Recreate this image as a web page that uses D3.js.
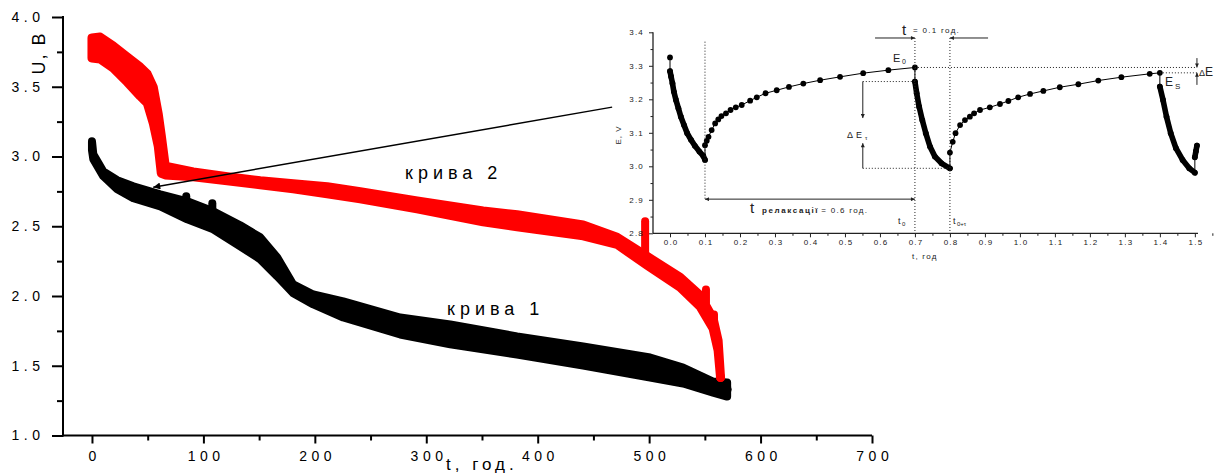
<!DOCTYPE html>
<html>
<head>
<meta charset="utf-8">
<script src="https://cdn.jsdelivr.net/npm/d3@7"></script>
<style>
  body { margin: 0; background: #fff; }
  svg { display: block; font-family: "Liberation Sans", Arial, sans-serif; }
</style>
</head>
<body>
<svg id="chart" width="1215" height="474"></svg>
<script>
// ---- Main chart: cell voltage U (V) vs time t (h), upper / lower envelope of the pulsed readings ----
const curve1T  = [0, 1.2, 10.1, 22.7, 37.1, 61.3, 85.5, 108.8, 133.0, 151.0, 166.2, 180.6, 198.6, 225.5, 276.6, 321.5, 381.5, 440.8, 500.9, 530.5, 557.4, 570.0];
const curve1Hi = [3.110, 3.017, 2.894, 2.830, 2.787, 2.729, 2.679, 2.607, 2.507, 2.421, 2.277, 2.083, 2.011, 1.961, 1.846, 1.796, 1.710, 1.638, 1.559, 1.487, 1.387, 1.380];
const curve1Lo = [3.045, 2.981, 2.859, 2.765, 2.701, 2.643, 2.550, 2.478, 2.356, 2.263, 2.141, 2.019, 1.940, 1.846, 1.724, 1.653, 1.581, 1.502, 1.416, 1.373, 1.308, 1.279];
const spike1T    = [84.6, 108.0];
const spike1Top  = [2.715, 2.665];
const spike1Base = [2.66, 2.60];

const curve2T  = [0, 7.4, 19.1, 31.7, 43.3, 49.6, 55.0, 59.5, 62.2, 65.8, 90.9, 121.4, 151.0, 180.6, 211.1, 240.7, 291.8, 351.0, 381.5, 440.8, 471.2, 498.2, 527.8, 545.7, 557.4, 561.9, 564.1];
const curve2Hi = [3.849, 3.856, 3.792, 3.713, 3.641, 3.591, 3.497, 3.304, 3.150, 2.930, 2.890, 2.855, 2.826, 2.804, 2.783, 2.747, 2.682, 2.610, 2.582, 2.510, 2.421, 2.284, 2.134, 2.004, 1.839, 1.681, 1.416];
const curve2Lo = [3.706, 3.698, 3.634, 3.533, 3.433, 3.383, 3.239, 3.074, 2.880, 2.868, 2.855, 2.826, 2.797, 2.768, 2.733, 2.697, 2.625, 2.532, 2.496, 2.431, 2.370, 2.220, 2.062, 1.925, 1.767, 1.609, 1.416];
const spike2T    = [496.4, 551.0, 558.2];
const spike2Top  = [2.536, 2.047, 1.868];
const spike2Base = [2.27, 1.95, 1.83];

const mainXTicks = [0, 100, 200, 300, 400, 500, 600, 700];
const mainXMinor = [50, 150, 250, 350, 450, 550, 650];
const mainYTicks = [1.0, 1.5, 2.0, 2.5, 3.0, 3.5, 4.0];
const mainYMinor = [1.25, 1.75, 2.25, 2.75, 3.25, 3.75];

// ---- Inset: E (V) vs t (h) over pulse / relaxation cycles ----
const openT = [0.000];
const openE = [3.325];
const dis1T = [0.000, 0.003, 0.007, 0.011, 0.017, 0.024, 0.031, 0.040, 0.049, 0.060, 0.071, 0.084, 0.095, 0.100];
const dis1E = [3.284, 3.268, 3.248, 3.223, 3.198, 3.173, 3.148, 3.123, 3.099, 3.079, 3.061, 3.044, 3.031, 3.019];
const rel1T = [0.100, 0.105, 0.110, 0.119, 0.129, 0.138, 0.147, 0.160, 0.173, 0.188, 0.205, 0.229, 0.248, 0.273, 0.305, 0.340, 0.381, 0.429, 0.486, 0.552, 0.624, 0.700];
const rel1E = [3.063, 3.076, 3.088, 3.108, 3.128, 3.140, 3.150, 3.158, 3.168, 3.176, 3.183, 3.196, 3.206, 3.218, 3.227, 3.237, 3.247, 3.257, 3.267, 3.278, 3.287, 3.295];
const dis2T = [0.700, 0.705, 0.712, 0.721, 0.731, 0.743, 0.757, 0.776, 0.800];
const dis2E = [3.253, 3.218, 3.178, 3.138, 3.099, 3.059, 3.029, 3.009, 2.994];
const rel2T = [0.800, 0.808, 0.816, 0.829, 0.843, 0.857, 0.869, 0.886, 0.914, 0.943, 0.967, 0.995, 1.029, 1.067, 1.114, 1.167, 1.224, 1.290, 1.371, 1.400];
const rel2E = [3.041, 3.073, 3.099, 3.123, 3.138, 3.148, 3.158, 3.168, 3.176, 3.186, 3.195, 3.206, 3.216, 3.225, 3.236, 3.245, 3.256, 3.266, 3.276, 3.279];
const dis3T = [1.400, 1.409, 1.419, 1.431, 1.446, 1.465, 1.484, 1.500];
const dis3E = [3.238, 3.198, 3.148, 3.099, 3.054, 3.019, 2.994, 2.981];
const rel3T = [1.500, 1.503, 1.506];
const rel3E = [3.027, 3.045, 3.062];

const insetXTicks = d3.range(0, 16).map(i => i / 10);
const insetXMinor = d3.range(0, 16).map(i => i / 10 + 0.05);
const insetYTicks = [2.8, 2.9, 3.0, 3.1, 3.2, 3.3, 3.4];
const insetYMinor = [2.85, 2.95, 3.05, 3.15, 3.25, 3.35];

// Key levels used by the annotations
const E0 = 3.295, Es = 3.279, Etau = 3.253, Emin = 2.994;

const zip = (t, a, b) => t.map((v, i) => ({ t: v, hi: a[i], lo: b ? b[i] : a[i] }));

const svg = d3.select('#chart');
const defs = svg.append('defs');
function arrowMarker(id, w, h, color) {
  defs.append('marker')
    .attr('id', id).attr('viewBox', '0 0 10 10')
    .attr('refX', 10).attr('refY', 5)
    .attr('markerWidth', w).attr('markerHeight', h)
    .attr('markerUnits', 'userSpaceOnUse')
    .attr('orient', 'auto-start-reverse')
    .append('path').attr('d', 'M0,0L10,5L0,10Z').attr('fill', color);
}
arrowMarker('arrowBig', 15, 7, '#000');
arrowMarker('arrowSmall', 6, 4, '#222');

// ================= Main chart =================
const x = d3.scaleLinear().domain([-26, 700]).range([63, 872]);
const y = d3.scaleLinear().domain([1, 4]).range([435.5, 17]);

const band = d3.area()
  .x(d => x(d.t)).y0(d => y(d.lo)).y1(d => y(d.hi));

function drawBand(data, spikesT, spikesTop, spikesBase, color, w) {
  const g = svg.append('g');
  g.append('path').datum(data)
    .attr('d', band)
    .attr('fill', color).attr('stroke', color)
    .attr('stroke-width', w).attr('stroke-linejoin', 'round');
  g.selectAll('line.spike').data(spikesT).join('line')
    .attr('x1', d => x(d)).attr('x2', d => x(d))
    .attr('y1', (d, i) => y(spikesBase[i])).attr('y2', (d, i) => y(spikesTop[i]))
    .attr('stroke', color).attr('stroke-width', 8).attr('stroke-linecap', 'round');
  // end point marker
  const last = data[data.length - 1];
  g.append('circle').attr('cx', x(last.t)).attr('cy', y((last.hi + last.lo) / 2)).attr('r', 4.5).attr('fill', color);
}

drawBand(zip(curve1T, curve1Hi, curve1Lo), spike1T, spike1Top, spike1Base, '#000', 8);
drawBand(zip(curve2T, curve2Hi, curve2Lo), spike2T, spike2Top, spike2Base, '#ff0000', 9);

// axes
const axMain = svg.append('g');
axMain.append('line').attr('x1', 63).attr('x2', 872).attr('y1', 435.5).attr('y2', 435.5)
  .attr('stroke', '#000').attr('stroke-width', 2);
axMain.append('line').attr('x1', 63).attr('x2', 63).attr('y1', 16).attr('y2', 436.5)
  .attr('stroke', '#000').attr('stroke-width', 2);

function styleAxis(g, size, ls) {
  g.select('.domain').remove();
  g.attr('font-family', '"Liberation Sans", Arial, sans-serif').attr('font-size', size);
  g.selectAll('line').attr('stroke', '#000');
  g.selectAll('text').attr('fill', '#000').style('letter-spacing', ls + 'px');
}

const gx = svg.append('g').attr('transform', 'translate(0,435.5)')
  .call(d3.axisBottom(x).tickValues(mainXTicks).tickSize(8).tickFormat(d3.format('d')));
styleAxis(gx, 14, 4.5);
gx.selectAll('line').attr('stroke-width', 2);
gx.selectAll('text').attr('y', 25).attr('dy', null).attr('dx', 2.25);

const gxm = svg.append('g').attr('transform', 'translate(0,435.5)')
  .call(d3.axisBottom(x).tickValues(mainXMinor).tickSize(5).tickFormat(''));
styleAxis(gxm, 14, 0);
gxm.selectAll('line').attr('stroke-width', 2);

const gy = svg.append('g').attr('transform', 'translate(63,0)')
  .call(d3.axisLeft(y).tickValues(mainYTicks).tickSize(11).tickPadding(7.5).tickFormat(d3.format('.1f')));
styleAxis(gy, 14, 4.5);
gy.selectAll('line').attr('stroke-width', 2);

const gym = svg.append('g').attr('transform', 'translate(63,0)')
  .call(d3.axisLeft(y).tickValues(mainYMinor).tickSize(6).tickFormat(''));
styleAxis(gym, 14, 0);
gym.selectAll('line').attr('stroke-width', 2);

// axis titles
svg.append('text')
  .attr('transform', 'translate(45,53) rotate(-90)')
  .attr('text-anchor', 'middle')
  .attr('font-size', 18).style('letter-spacing', '2px')
  .text('U, В');
svg.append('text')
  .attr('x', 446).attr('y', 470)
  .attr('font-size', 17).style('letter-spacing', '4px')
  .text('t, год.');

// curve labels
svg.append('text').attr('x', 405).attr('y', 179).attr('font-size', 18).style('letter-spacing', '5px').text('крива 2');
svg.append('text').attr('x', 447).attr('y', 315).attr('font-size', 18).style('letter-spacing', '5px').text('крива 1');

// pointer from the inset to the start of curve 1
svg.append('line')
  .attr('x1', x(466.8)).attr('y1', y(3.354))
  .attr('x2', x(55.0)).attr('y2', y(2.780))
  .attr('stroke', '#000').attr('stroke-width', 1.5)
  .attr('marker-end', 'url(#arrowBig)');

// ================= Inset =================
const xi = d3.scaleLinear().domain([-0.0486, 1.509]).range([653, 1198]);
const yi = d3.scaleLinear().domain([2.8, 3.4]).range([233.3, 32.3]);
const ink = '#222';

const inset = svg.append('g');

// axes
inset.append('line').attr('x1', 653).attr('x2', 1198).attr('y1', yi(2.8)).attr('y2', yi(2.8))
  .attr('stroke', ink).attr('stroke-width', 1.3);
inset.append('line').attr('x1', 653).attr('x2', 653).attr('y1', yi(3.4)).attr('y2', yi(2.8))
  .attr('stroke', ink).attr('stroke-width', 1.3);

function styleInsetAxis(g) {
  g.select('.domain').remove();
  g.attr('font-family', '"Liberation Sans", Arial, sans-serif').attr('font-size', 8);
  g.selectAll('line').attr('stroke', ink).attr('stroke-width', 1);
  g.selectAll('text').attr('fill', ink).style('letter-spacing', '1.2px');
}
const gxi = inset.append('g').attr('transform', `translate(0,${yi(2.8)})`)
  .call(d3.axisBottom(xi).tickValues(insetXTicks).tickSize(4).tickFormat(d3.format('.1f')));
styleInsetAxis(gxi);
gxi.selectAll('text').attr('y', 11.5).attr('dy', null).attr('dx', 0.6);
const gxim = inset.append('g').attr('transform', `translate(0,${yi(2.8)})`)
  .call(d3.axisBottom(xi).tickValues(insetXMinor).tickSize(2.5).tickFormat(''));
styleInsetAxis(gxim);

const gyi = inset.append('g').attr('transform', 'translate(653,0)')
  .call(d3.axisLeft(yi).tickValues(insetYTicks).tickSize(4).tickPadding(5).tickFormat(d3.format('.1f')));
styleInsetAxis(gyi);
const gyim = inset.append('g').attr('transform', 'translate(653,0)')
  .call(d3.axisLeft(yi).tickValues(insetYMinor).tickSize(2.5).tickFormat(''));
styleInsetAxis(gyim);

inset.append('text').attr('transform', 'translate(621,135) rotate(-90)')
  .attr('text-anchor', 'middle').attr('font-size', 8).attr('fill', ink).style('letter-spacing', '1px')
  .text('E, V');
inset.append('text').attr('x', 912).attr('y', 259).attr('font-size', 8).attr('fill', ink)
  .style('letter-spacing', '1.2px').text('t, год');

// measured series
const pts = (t, e) => t.map((v, i) => [v, e[i]]);
const allPts = [].concat(pts(openT, openE), pts(dis1T, dis1E), pts(rel1T, rel1E),
  pts(dis2T, dis2E), pts(rel2T, rel2E), pts(dis3T, dis3E), pts(rel3T, rel3E));
const lineI = d3.line().x(d => xi(d[0])).y(d => yi(d[1]));

inset.append('path').datum(allPts).attr('d', lineI)
  .attr('fill', 'none').attr('stroke', '#000').attr('stroke-width', 1);
// densely sampled discharge sections merge into a thick trace
[pts(dis1T, dis1E), pts(dis2T, dis2E), pts(dis3T, dis3E), pts(rel3T, rel3E)].forEach(seg => {
  inset.append('path').datum(seg).attr('d', lineI)
    .attr('fill', 'none').attr('stroke', '#000').attr('stroke-width', 5.6)
    .attr('stroke-linecap', 'round').attr('stroke-linejoin', 'round');
});
inset.selectAll('circle.pt').data(allPts).join('circle')
  .attr('cx', d => xi(d[0])).attr('cy', d => yi(d[1])).attr('r', 2.9).attr('fill', '#000');

// annotations
const dotted = (x1, y1, x2, y2) => inset.append('line')
  .attr('x1', x1).attr('y1', y1).attr('x2', x2).attr('y2', y2)
  .attr('stroke', ink).attr('stroke-width', 1).attr('stroke-dasharray', '1,2');
const arrow = (x1, y1, x2, y2, both) => {
  const l = inset.append('line')
    .attr('x1', x1).attr('y1', y1).attr('x2', x2).attr('y2', y2)
    .attr('stroke', ink).attr('stroke-width', 1)
    .attr('marker-end', 'url(#arrowSmall)');
  if (both) l.attr('marker-start', 'url(#arrowSmall)');
};

dotted(xi(0.1), yi(3.372), xi(0.1), yi(2.902));
dotted(xi(0.7), yi(3.383), xi(0.7), yi(2.8));
dotted(xi(0.8), yi(3.383), xi(0.8), yi(2.8));
dotted(xi(0.7), yi(E0), xi(1.506), yi(E0));
dotted(xi(1.4), yi(Es), xi(1.506), yi(Es));
dotted(xi(0.551), yi(Etau), xi(0.7), yi(Etau));
dotted(xi(0.551), yi(Emin), xi(0.8), yi(Emin));

// relaxation interval
arrow(xi(0.1), yi(2.902), xi(0.7), yi(2.902), true);
// pulse interval
arrow(xi(0.586), yi(3.383), xi(0.7), yi(3.383));
arrow(xi(0.909), yi(3.383), xi(0.8), yi(3.383));
// ΔEτ
arrow(xi(0.551), yi(Etau), xi(0.551), yi(3.144));
arrow(xi(0.551), yi(Emin), xi(0.551), yi(3.069));
// ΔE
arrow(xi(1.506), yi(3.323), xi(1.506), yi(E0));
arrow(xi(1.506), yi(3.243), xi(1.506), yi(Es));

const txt = (xx, yy, size, s, opts = {}) => inset.append('text')
  .attr('x', xx).attr('y', yy).attr('font-size', size).attr('fill', ink)
  .attr('font-weight', opts.bold ? 'bold' : null)
  .style('letter-spacing', (opts.ls || 0) + 'px').text(s);

txt(902, 35, 15, 't');
txt(913, 33, 8, '= 0.1 год.', { ls: 1.3 });
txt(750, 213, 15, 't');
const relax = txt(762, 213, 8, 'релаксації', { bold: true, ls: 1.6 });
const relaxEnd = 762 + relax.node().getComputedTextLength();
txt(relaxEnd + 2, 213, 8, '= 0.6 год.', { ls: 1.3 });
txt(893, 62, 11, 'E');
txt(902, 64, 7, '0');
txt(1165, 86, 12, 'E');
txt(1175, 89, 8, 'S');
txt(1199, 76, 9, 'Δ');
txt(1205, 76, 12, 'E');
txt(847, 138, 9, 'Δ E', { ls: 0.5 });
txt(865, 140, 6, 'τ');
txt(898, 224, 9, 't');
txt(902, 226, 6, '0');
txt(953, 224, 9, 't');
txt(957, 226, 6, '0+τ');
</script>
</body>
</html>
